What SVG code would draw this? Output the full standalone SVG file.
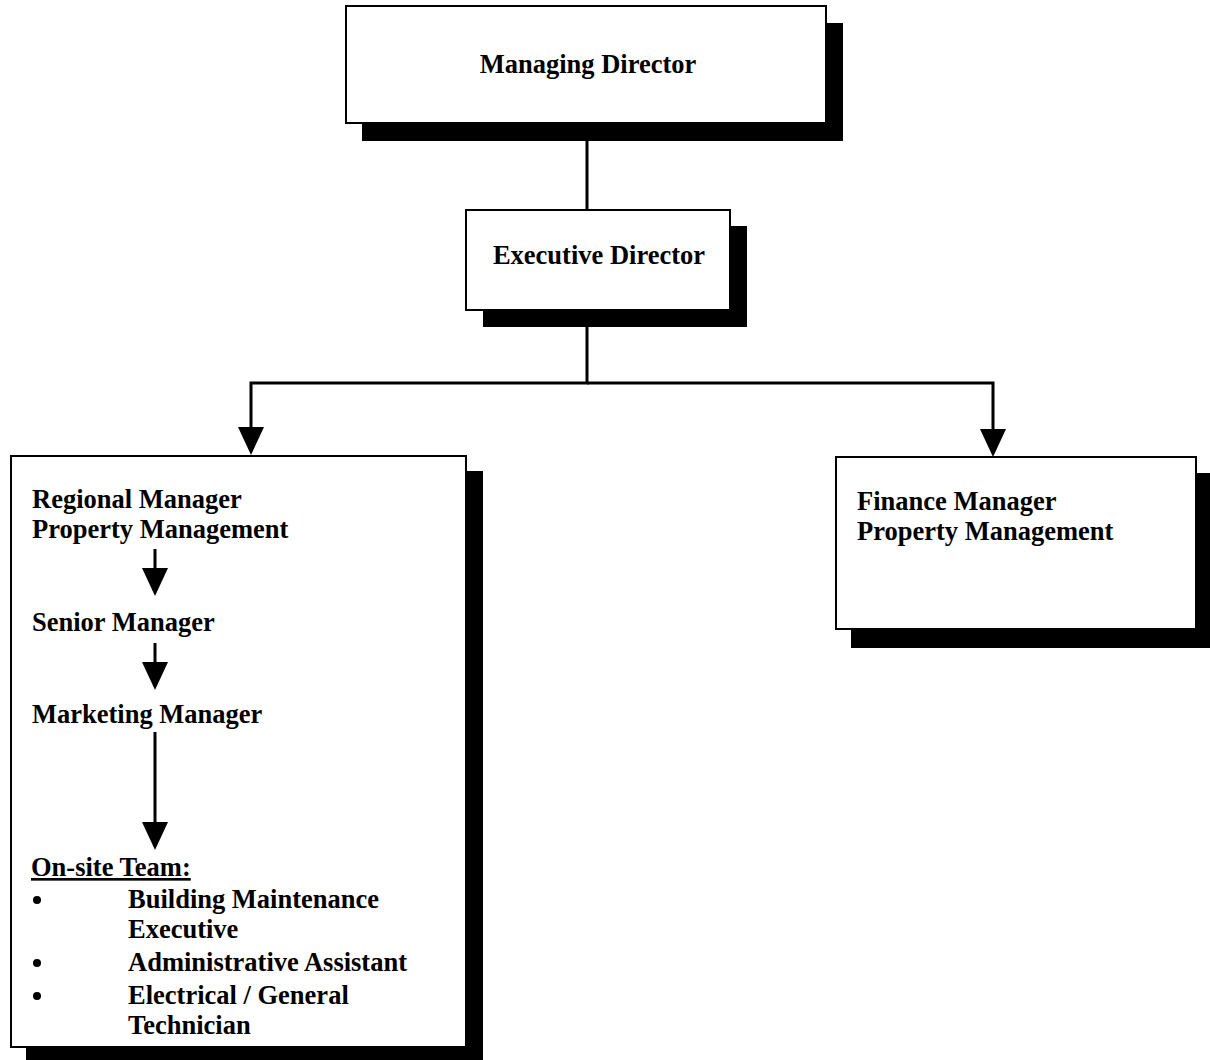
<svg xmlns="http://www.w3.org/2000/svg" width="1210" height="1060" viewBox="0 0 1210 1060">
<style>
.box{fill:#fff;stroke:#000;stroke-width:2}
.shadow{fill:#000}
.t{font-family:"Liberation Serif","Times New Roman",serif;font-weight:bold;font-size:26.5px;fill:#000}
.c{text-anchor:middle}
.conn{fill:none;stroke:#000;stroke-width:3}
</style>
<defs>
<marker id="arr" markerUnits="userSpaceOnUse" viewBox="0 0 28 26" markerWidth="28" markerHeight="26" refX="18" refY="13" orient="auto">
<path d="M0,0 L28,13 L0,26 z" fill="#000"/>
</marker>
</defs>
<rect width="1210" height="1060" fill="#fff"/>
<g id="connectors">
<path class="conn" d="M587,123 V210"/>
<path class="conn" d="M587,310 V383 H251 V445" marker-end="url(#arr)"/>
<path class="conn" d="M587,383 H993 V447" marker-end="url(#arr)"/>
</g>
<g id="managing-director">
<rect class="shadow" x="362" y="23" width="481" height="118"/>
<rect class="box" x="346" y="6" width="480" height="117"/>
<text class="t c" x="588" y="73">Managing Director</text>
</g>
<g id="executive-director">
<rect class="shadow" x="483" y="226" width="264" height="101"/>
<rect class="box" x="466" y="210" width="264" height="100"/>
<text class="t c" x="599" y="264">Executive Director</text>
</g>
<g id="regional-manager">
<rect class="shadow" x="26" y="471" width="457" height="589"/>
<rect class="box" x="11" y="456" width="455" height="591"/>
<text class="t" x="32" y="508">Regional Manager</text>
<text class="t" x="32" y="538">Property Management</text>
<g id="inner-arrows">
<path class="conn" d="M155,549 V586" marker-end="url(#arr)"/>
<path class="conn" d="M155,643 V680" marker-end="url(#arr)"/>
<path class="conn" d="M155,732 V840" marker-end="url(#arr)"/>
</g>
<text class="t" x="32" y="631">Senior Manager</text>
<text class="t" x="32" y="723">Marketing Manager</text>
<text class="t" x="31" y="876" text-decoration="underline">On-site Team:</text>
<circle cx="37" cy="900" r="4"/>
<circle cx="37" cy="963" r="4"/>
<circle cx="37" cy="996" r="4"/>
<text class="t" x="128" y="908">Building Maintenance</text>
<text class="t" x="128" y="938">Executive</text>
<text class="t" x="128" y="971">Administrative Assistant</text>
<text class="t" x="128" y="1004">Electrical / General</text>
<text class="t" x="128" y="1034">Technician</text>
</g>
<g id="finance-manager">
<rect class="shadow" x="851" y="473" width="359" height="175"/>
<rect class="box" x="836" y="457" width="360" height="172"/>
<text class="t" x="857" y="510">Finance Manager</text>
<text class="t" x="857" y="540">Property Management</text>
</g>
</svg>
